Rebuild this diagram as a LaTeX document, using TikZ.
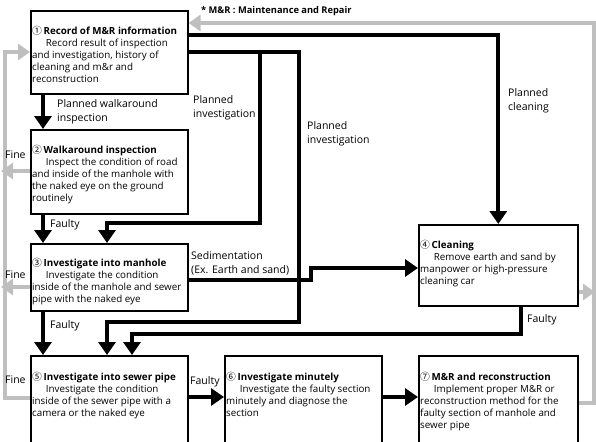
\documentclass[tikz,border=0pt]{standalone}
\usepackage{fontspec}
\setmainfont{Open Sans}
\newfontfamily\cjk{Noto Sans CJK KR}
\usetikzlibrary{arrows.meta,positioning}

\newcommand{\ttl}[2]{{\cjk #1}\,\textbf{#2}}
\newcommand{\ind}{\hspace*{1.4em}}

\begin{document}
\begin{tikzpicture}[x=1pt,y=-1pt,
  box/.style={draw,line width=1.6pt,rectangle,minimum width=157pt,inner sep=0pt,anchor=north west},
  txt/.style={anchor=north west,align=left,inner sep=0pt,font=\fontsize{9.8}{12}\selectfont},
  lbl/.style={anchor=north west,align=left,inner sep=0pt,font=\fontsize{10.5}{14}\selectfont},
  flow/.style={line width=4pt,-{Triangle[width=17pt,length=13pt]}},
  back/.style={draw=black!25,line width=3.5pt,-{Triangle[width=16pt,length=12pt]}}
]
\useasboundingbox (0,0) rectangle (596,441);
\clip (0,0) rectangle (596,441);

\node[box,minimum height=83pt] (b1) at (30,10) {};
\node[box,minimum height=84pt] (b2) at (30,129) {};
\node[box,minimum height=67pt] (b3) at (30,243) {};
\node[box,minimum height=81pt,minimum width=159pt] (b4) at (418,224) {};
\node[box,minimum height=95pt] (b5) at (30,355) {};
\node[box,minimum height=95pt] (b6) at (224,355) {};
\node[box,minimum height=95pt,minimum width=159pt] (b7) at (418,355) {};

\node[txt] (t1) at ([xshift=2pt,yshift=-16pt]b1.north west) {\ttl{①}{Record of M\&R information}\\\ind Record result of inspection\\and investigation, history of\\cleaning and m\&r and\\reconstruction};
\node[txt] (t2) at ([xshift=2pt,yshift=-16pt]b2.north west) {\ttl{②}{Walkaround inspection}\\\ind Inspect the condition of road\\and inside of the manhole with\\the naked eye on the ground\\routinely};
\node[txt] (t3) at ([xshift=2pt,yshift=-15pt]b3.north west) {\ttl{③}{Investigate into manhole}\\\ind Investigate the condition\\inside of the manhole and sewer\\pipe with the naked eye};
\node[txt] (t4) at ([xshift=2pt,yshift=-16pt]b4.north west) {\ttl{④}{Cleaning}\\\ind Remove earth and sand by\\manpower or high-pressure\\cleaning car};
\node[txt] (t5) at ([xshift=2pt,yshift=-17pt]b5.north west) {\ttl{⑤}{Investigate into sewer pipe}\\\ind Investigate the condition\\inside of the sewer pipe with a\\camera or the naked eye};
\node[txt] (t6) at ([xshift=2pt,yshift=-17pt]b6.north west) {\ttl{⑥}{Investigate minutely}\\\ind Investigate the faulty section\\minutely and  diagnose the\\section};
\node[txt] (t7) at ([xshift=2pt,yshift=-17pt]b7.north west) {\ttl{⑦}{M\&R and reconstruction}\\\ind Implement proper M\&R or\\reconstruction method for the\\faulty section of manhole and\\sewer pipe};

\node[anchor=north west,inner sep=0pt,font=\fontsize{9.3}{11}\selectfont\bfseries] (nt) at (201,6) {* M\&R : Maintenance and Repair};

\draw[back] ([yshift=-48pt]b7.north east) -| (594,23) -- ([yshift=-13pt]b1.north east);
\draw[back] ([yshift=-68pt]b4.north east) -- (595,292);
\draw[back] ([yshift=-43pt]b5.north west) -| (5,52) -- ([yshift=-42pt]b1.north west);
\draw[back] ([yshift=-42pt]b2.north west) -- (1,171);
\draw[back] ([yshift=-44pt]b3.north west) -- (1,287);

\draw[flow] ([xshift=13pt]b1.south west) -- ([xshift=13pt]b2.north west);
\draw[flow] ([yshift=-25pt]b1.north east) -| (b4.north);
\draw[flow] ([yshift=-42pt]b1.north east) -| (260,223) -| ([xshift=77pt]b3.north west);
\draw[flow] ([yshift=-42pt]b1.north east) -| (299,322) -| ([xshift=77pt]b5.north west);
\draw[flow] ([xshift=13pt]b2.south west) -- ([xshift=13pt]b3.north west);
\draw[flow] ([xshift=13pt]b3.south west) -- ([xshift=13pt]b5.north west);
\draw[flow] ([yshift=-37pt]b3.north east) -- (311,280) |- ([yshift=-44pt]b4.north west);
\draw[flow] ([xshift=103pt]b4.south west) |- (132,334) -- ([xshift=102pt]b5.north west);
\draw[flow] ([yshift=-42pt]b5.north east) -- ([yshift=-42pt]b6.north west);
\draw[flow] ([yshift=-42pt]b6.north east) -- ([yshift=-42pt]b7.north west);

\node[lbl] (l1) at (57,99) {Planned walkaround\\inspection};
\node[lbl] (l2) at (193,95) {Planned\\investigation};
\node[lbl] (l3) at (307,121) {Planned\\investigation};
\node[lbl] (l4) at (508,88) {Planned\\cleaning};
\node[lbl] (l5) at (50,219) {Faulty};
\node[lbl] (l6) at (191,251) {Sedimentation\\(Ex. Earth and sand)};
\node[lbl] (l7) at (50,320) {Faulty};
\node[lbl] (l8) at (527,314) {Faulty};
\node[lbl] (l9) at (190,376) {Faulty};
\node[lbl] (f1) at (5,151) {Fine};
\node[lbl] (f2) at (5,271) {Fine};
\node[lbl] (f3) at (5,376) {Fine};
\end{tikzpicture}
\end{document}
